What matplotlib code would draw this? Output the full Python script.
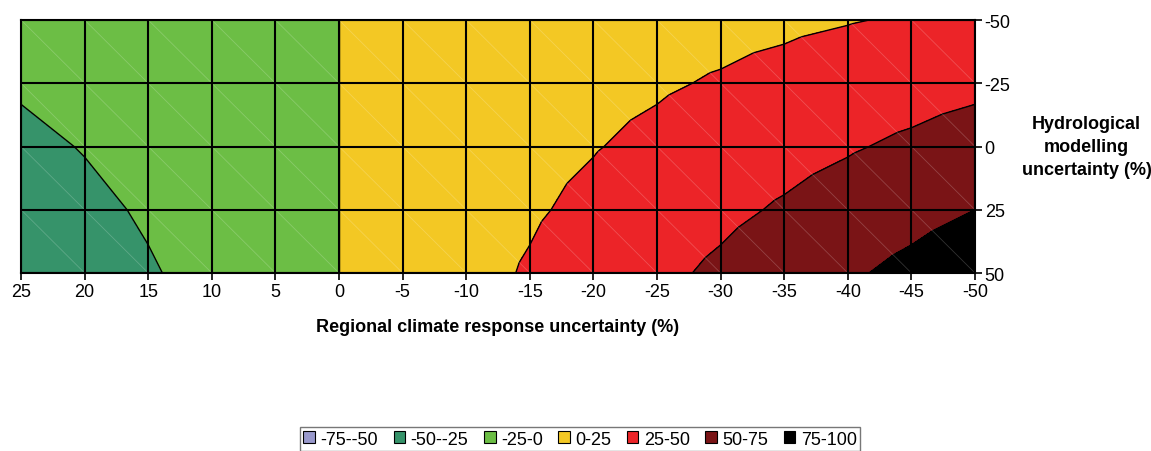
import matplotlib
matplotlib.use("Agg")
import matplotlib.pyplot as plt
import matplotlib.tri as mtri
from matplotlib.patches import Patch
import numpy as np

plt.rcParams['font.family'] = ['Liberation Sans', 'DejaVu Sans']
plt.rcParams['axes.unicode_minus'] = False

# regional climate response uncertainty (%) - columns, left to right
climate = [25, 20, 15, 10, 5, 0, -5, -10, -15, -20, -25, -30, -35, -40, -45, -50]
# hydrological modelling uncertainty (%) - rows, top to bottom
hydro = [-50, -25, 0, 25, 50]

# change (%), one row per hydro value
z_m50 = [-15, -12, -9, -6, -3, 0, 3, 6, 9, 12, 15, 18, 21, 24, 27, 30]
z_m25 = [-22.5, -18, -13.5, -9, -4.5, 0, 4.5, 9, 13.5, 18, 22.5, 27, 31.5, 36, 40.5, 45]
z_0 = [-30, -24, -18, -12, -6, 0, 6, 12, 18, 24, 30, 36, 42, 48, 54, 60]
z_25 = [-37.5, -30, -22.5, -15, -7.5, 0, 7.5, 15, 22.5, 30, 37.5, 45, 52.5, 60, 67.5, 75]
z_50 = [-45, -36, -27, -18, -9, 0, 9, 18, 27, 36, 45, 54, 63, 72, 81, 90]

levels = [-75, -50, -25, 0, 25, 50, 75, 100]
band_labels = ['-75--50', '-50--25', '-25-0', '0-25', '25-50', '50-75', '75-100']
band_colors = ['#9999CC', '#36936A', '#6CBE45', '#F3C824', '#EC2428', '#7A1416', '#000000']

Z = np.array([z_m50, z_m25, z_0, z_25, z_50])
nx, ny = len(climate), len(hydro)
X, Y = np.meshgrid(climate, hydro)

# split each cell along the top-left -> bottom-right diagonal, like the source
tris = []
for j in range(ny - 1):
    for i in range(nx - 1):
        a = j * nx + i
        b = j * nx + i + 1
        c = (j + 1) * nx + i
        d = (j + 1) * nx + i + 1
        tris.append([a, b, d])
        tris.append([a, c, d])
tri = mtri.Triangulation(X.ravel(), Y.ravel(), tris)

fig = plt.figure(figsize=(11.51, 4.52), dpi=100)
ax = fig.add_axes([0.0183, 0.3938, 0.8288, 0.5597])

ax.tricontourf(tri, Z.ravel(), levels=levels, colors=band_colors)
ax.tricontour(tri, Z.ravel(), levels=levels[1:-1], colors='black',
              linewidths=1.0, linestyles='solid')

# faint diagonals of the triangulation
for j in range(ny - 1):
    for i in range(nx - 1):
        ax.plot([climate[i], climate[i + 1]], [hydro[j], hydro[j + 1]],
                color='white', alpha=0.2, lw=0.6, zorder=2)

for xv in climate:
    ax.axvline(xv, color='black', lw=1.5, zorder=3)
for yv in hydro:
    ax.axhline(yv, color='black', lw=1.5, zorder=3)

ax.set_xlim(25, -50)
ax.set_ylim(50, -50)
ax.set_xticks(climate)
ax.set_xticklabels([str(v) for v in climate])
ax.set_yticks(hydro)
ax.set_yticklabels([str(v) for v in hydro])
ax.yaxis.tick_right()
ax.tick_params(axis='both', direction='out', length=5, width=1.2, labelsize=13, pad=2)
for s in ax.spines.values():
    s.set_linewidth(1.5)

fig.text(0.4327, 0.2765, 'Regional climate response uncertainty (%)',
         ha='center', va='center', fontsize=13, fontweight='bold')
fig.text(0.944, 0.674, 'Hydrological\nmodelling\nuncertainty (%)',
         ha='center', va='center', fontsize=13, fontweight='bold',
         multialignment='center', linespacing=1.45)

handles = [Patch(facecolor=c, edgecolor='black', lw=0.8) for c in band_colors]
leg = fig.legend(handles, band_labels, loc='center', bbox_to_anchor=(0.504, 0.0265),
                 ncol=7, fontsize=13, frameon=True, fancybox=False,
                 handlelength=0.65, handleheight=0.65, handletextpad=0.3,
                 columnspacing=0.85, borderpad=0.2, borderaxespad=0)
leg.get_frame().set_edgecolor('#555555')
leg.get_frame().set_linewidth(1.0)

fig.savefig('out.png', dpi=100)
